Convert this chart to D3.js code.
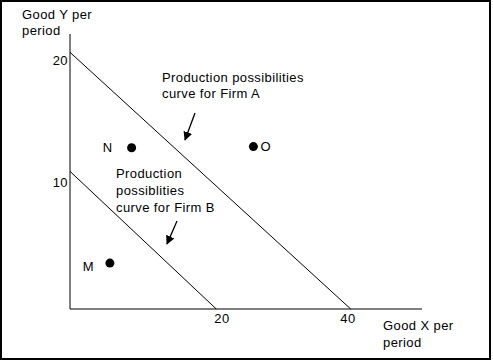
<!DOCTYPE html>
<html>
<head>
<meta charset="utf-8">
<script src="https://cdn.jsdelivr.net/npm/d3@7"></script>
<style>
  body { margin: 0; background: #fff; }
  svg { display: block; }
  text { font-family: Arial, "Liberation Sans", sans-serif; font-size: 13px; letter-spacing: 0.4px; fill: #000; }
</style>
</head>
<body>
<script>
var width = 493,
    height = 362;

// production possibilities curves (Good X, Good Y)
var curveA = [[0, 20.7], [40.1, 0]];
var curveB = [[0, 11.1], [20.9, 0]];

// points
var pointNames = ['N', 'O', 'M'];
var pointX = [8.8, 26.2, 5.7];
var pointY = [13.0, 13.1, 3.7];

var xTicks = [20, 40];
var yTicks = [10, 20];

var svg = d3.select('body').append('svg')
    .attr('width', width)
    .attr('height', height);

svg.append('rect')
    .attr('x', 1).attr('y', 1)
    .attr('width', 489).attr('height', 358)
    .attr('fill', '#fff')
    .attr('stroke', '#000')
    .attr('stroke-width', 2);

var x = d3.scaleLinear().domain([0, 40]).range([70, 350]);
var y = d3.scaleLinear().domain([0, 20]).range([309, 61]);

// axes
svg.append('line')
    .attr('x1', x(0)).attr('y1', y(0))
    .attr('x2', x(0)).attr('y2', 34)
    .attr('stroke', '#000');
svg.append('line')
    .attr('x1', x(0)).attr('y1', y(0))
    .attr('x2', 422).attr('y2', y(0))
    .attr('stroke', '#000');

var line = d3.line()
    .x(function(d) { return x(d[0]); })
    .y(function(d) { return y(d[1]); });

svg.selectAll('path.ppc')
    .data([curveA, curveB])
    .enter().append('path')
      .attr('class', 'ppc')
      .attr('d', line)
      .attr('fill', 'none')
      .attr('stroke', '#000');

// tick labels (no tick marks in the original)
svg.selectAll('text.xtick')
    .data(xTicks)
    .enter().append('text')
      .attr('class', 'xtick')
      .attr('x', function(d) { return x(d) + (d === 20 ? 12 : -2); })
      .attr('y', 323)
      .attr('text-anchor', 'middle')
      .text(function(d) { return d; });

svg.selectAll('text.ytick')
    .data(yTicks)
    .enter().append('text')
      .attr('class', 'ytick')
      .attr('x', 68)
      .attr('y', function(d) { return y(d) + (d === 10 ? 2 : 4); })
      .attr('text-anchor', 'end')
      .text(function(d) { return d; });

// axis titles
function multiline(lines, px, py, lh) {
  var t = svg.append('text').attr('x', px).attr('y', py);
  lines.forEach(function(s, i) {
    t.append('tspan').attr('x', px).attr('dy', i ? lh : 0).text(s);
  });
  return t;
}

multiline(['Good Y per', 'period'], 22, 19, 16);
multiline(['Good X per', 'period'], 383, 330, 17);

// annotations
multiline(['Production possibilities', 'curve for Firm A'], 162, 82, 16);
multiline(['Production', 'possiblities', 'curve for Firm B'], 116, 178, 17);

svg.append('defs').append('marker')
    .attr('id', 'arrow')
    .attr('viewBox', '0 0 10 10')
    .attr('refX', 9).attr('refY', 5)
    .attr('markerWidth', 9).attr('markerHeight', 9)
    .attr('markerUnits', 'userSpaceOnUse')
    .attr('orient', 'auto')
  .append('path')
    .attr('d', 'M0,0L10,5L0,10Z')
    .attr('fill', '#000');

var arrows = [[195, 113, 185, 140], [177, 221, 167, 244]];
svg.selectAll('line.arrow')
    .data(arrows)
    .enter().append('line')
      .attr('class', 'arrow')
      .attr('x1', function(d) { return d[0]; })
      .attr('y1', function(d) { return d[1]; })
      .attr('x2', function(d) { return d[2]; })
      .attr('y2', function(d) { return d[3]; })
      .attr('stroke', '#000')
      .attr('stroke-width', 1.3)
      .attr('marker-end', 'url(#arrow)');

// points
var pts = pointNames.map(function(n, i) { return { name: n, x: pointX[i], y: pointY[i] }; });
var labelDx = { N: -19, O: 7, M: -16 };

svg.selectAll('circle.pt')
    .data(pts)
    .enter().append('circle')
      .attr('class', 'pt')
      .attr('cx', function(d) { return x(d.x); })
      .attr('cy', function(d) { return y(d.y); })
      .attr('r', 4.5)
      .attr('fill', '#000');

svg.selectAll('text.pt')
    .data(pts)
    .enter().append('text')
      .attr('class', 'pt')
      .attr('x', function(d) { return x(d.x) + labelDx[d.name]; })
      .attr('y', function(d) { return y(d.y) + (d.name === 'M' ? 8 : 4); })
      .attr('text-anchor', function(d) { return d.name === 'O' ? 'start' : 'end'; })
      .text(function(d) { return d.name; });
</script>
</body>
</html>
